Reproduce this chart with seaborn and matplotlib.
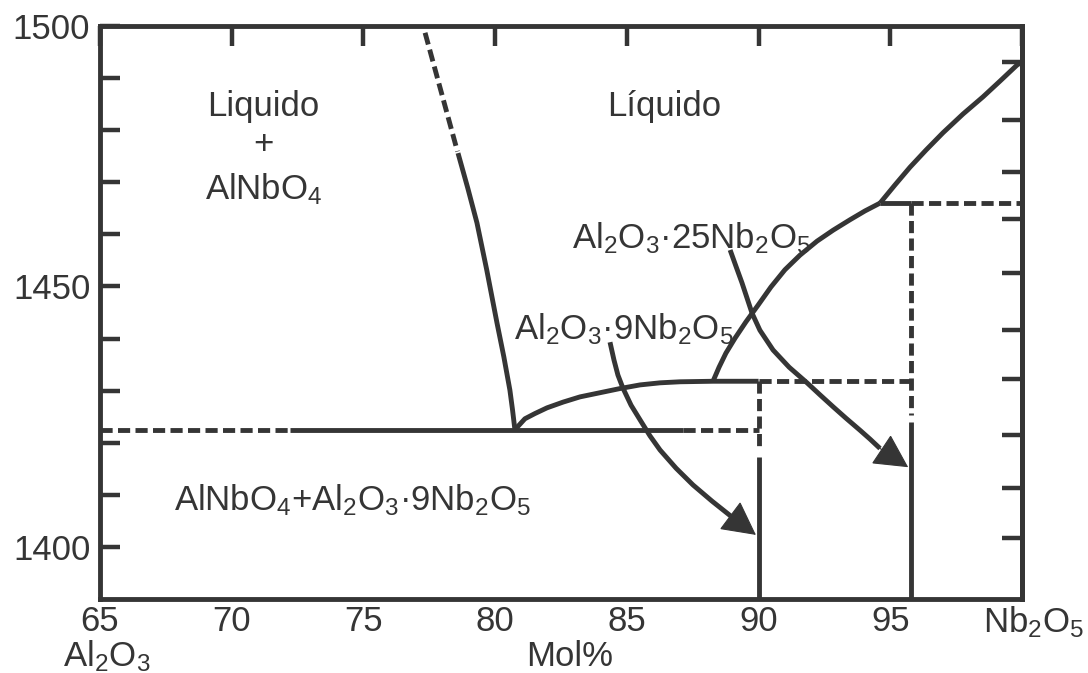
import matplotlib
matplotlib.use("Agg")
import matplotlib.pyplot as plt
import seaborn as sns
from matplotlib.patches import FancyArrowPatch, ArrowStyle
from matplotlib.transforms import ScaledTranslation

# ---- axes ---------------------------------------------------------------
x_range = (65, 100)
t_range = (1390, 1500)
x_ticks = [65, 70, 75, 80, 85, 90, 95, 100]
x_ticklabels = ["65", "70", "75", "80", "85", "90", "95", "Nb$_2$O$_5$"]
t_ticks = [1400, 1410, 1420, 1430, 1440, 1450, 1460, 1470, 1480, 1490, 1500]
t_ticklabels = ["1400", "", "", "", "", "1450", "", "", "", "", "1500"]
t_ticks_right = [1401.8, 1411.4, 1421.4, 1432.3, 1441.6, 1452.6, 1463.0, 1472.0, 1482.0, 1493.0]

# ---- invariant temperatures and compositions -------------------------------
eutectic_t = 1422.5
peritectic_9_t = 1431.8
peritectic_25_t = 1466.0
comp_9 = 90.0
comp_25 = 95.8

# liquidus of AlNbO4 (upper part uncertain)
liq_a_dash_x = [77.34, 78.57]
liq_a_dash_t = [1498.7, 1475.9]
liq_a_x = [78.59, 78.96, 79.31, 79.68, 80.07, 80.33, 80.56, 80.66, 80.75]
liq_a_t = [1475.6, 1468.9, 1462.2, 1453.2, 1443.0, 1436.5, 1430.1, 1426.3, 1422.5]

# liquidus of Al2O3·9Nb2O5
liq_9_x = [80.75, 81.13, 81.51, 81.97, 82.58, 83.22, 83.98, 84.74, 85.50, 86.26,
           87.02, 88.27, 90.0]
liq_9_t = [1422.5, 1424.6, 1425.6, 1426.7, 1427.8, 1428.8, 1429.6, 1430.4, 1431.1,
           1431.5, 1431.7, 1431.8, 1431.8]

# liquidus of Al2O3·25Nb2O5
liq_25_x = [88.27, 88.50, 88.76, 89.11, 89.52, 89.98, 90.47, 91.00, 91.57, 92.22,
            92.83, 93.47, 94.04, 94.61]
liq_25_t = [1431.8, 1434.5, 1437.2, 1440.1, 1443.2, 1446.4, 1449.9, 1453.2, 1456.0,
            1458.7, 1460.8, 1462.8, 1464.5, 1466.0]

# liquidus of Nb2O5
liq_nb_x = [94.61, 95.18, 95.75, 96.36, 97.00, 97.76, 98.52, 99.16, 99.81, 100.0]
liq_nb_t = [1466.0, 1469.5, 1472.9, 1476.2, 1479.5, 1483.1, 1486.4, 1489.4, 1492.5, 1493.1]

# extent of solid / dashed parts of the invariant lines
eutectic_solid_x = [72.2, 87.13]
eutectic_dash_x = [[65.0, 72.2], [87.13, comp_9]]
upper_solid_x = [94.61, comp_25]
upper_dash_x = [comp_25, 100.0]
comp_9_dash_t = [peritectic_9_t, 1418.6]
comp_9_solid_t = [1417.3, 1390.0]
comp_25_dash_t = [peritectic_25_t, 1425.3]
comp_25_solid_t = [1424.0, 1390.0]

# label arrows (last point is the arrow tip)
arrow_9_x = [84.36, 84.51, 84.66, 84.85, 85.16, 85.50, 85.88, 86.26, 86.87, 87.51,
             88.23, 88.95, 89.90]
arrow_9_t = [1439.3, 1435.9, 1433.0, 1430.5, 1427.2, 1424.4, 1421.3, 1418.6, 1415.1,
             1411.9, 1408.8, 1405.9, 1402.3]
arrow_25_x = [88.92, 89.14, 89.37, 89.56, 89.75, 90.05, 90.55, 91.16, 91.84, 92.33,
              92.83, 93.32, 93.85, 94.23, 94.61, 95.68]
arrow_25_t = [1457.0, 1453.9, 1450.7, 1447.8, 1444.9, 1441.6, 1437.8, 1434.5, 1431.5,
              1429.2, 1426.9, 1424.7, 1422.4, 1420.7, 1418.9, 1415.3]

# ---- style ---------------------------------------------------------------
INK = "#353535"
LW = 3.5
DASH = (2.5, 1.1)
FS = 25

sns.set_theme(style="white")
plt.rcParams["font.family"] = ["Liberation Sans", "DejaVu Sans"]
plt.rcParams["mathtext.fontset"] = "custom"
plt.rcParams["mathtext.rm"] = "Liberation Sans"
plt.rcParams["mathtext.it"] = "Liberation Sans:italic"
plt.rcParams["mathtext.bf"] = "Liberation Sans:bold"

fig = plt.figure(figsize=(10.88, 6.73), dpi=100)
ax = fig.add_axes([100 / 1088, 1 - 599 / 673, 922 / 1088, 573 / 673])


def trace(x, t, dashed=False):
    sns.lineplot(x=x, y=t, ax=ax, sort=False, estimator=None, color=INK,
                 linewidth=LW, linestyle=(0, DASH) if dashed else "-",
                 solid_capstyle="butt", dash_capstyle="butt",
                 solid_joinstyle="round", zorder=3)


# liquidus curves
trace(liq_a_dash_x, liq_a_dash_t, dashed=True)
trace(liq_a_x, liq_a_t)
trace(liq_9_x, liq_9_t)
trace(liq_25_x, liq_25_t)
trace(liq_nb_x, liq_nb_t)

# eutectic line
trace(eutectic_solid_x, [eutectic_t, eutectic_t])
for seg in eutectic_dash_x:
    trace(seg, [eutectic_t, eutectic_t], dashed=True)

# peritectic lines
trace([comp_9, comp_25], [peritectic_9_t, peritectic_9_t], dashed=True)
trace(upper_solid_x, [peritectic_25_t, peritectic_25_t])
trace(upper_dash_x, [peritectic_25_t, peritectic_25_t], dashed=True)

# compound lines
trace([comp_9, comp_9], comp_9_dash_t, dashed=True)
trace([comp_9, comp_9], comp_9_solid_t)
trace([comp_25, comp_25], comp_25_dash_t, dashed=True)
trace([comp_25, comp_25], comp_25_solid_t)

# curved label arrows
for xs, ts in ((arrow_9_x, arrow_9_t), (arrow_25_x, arrow_25_t)):
    trace(xs[:-1], ts[:-1])
    head = FancyArrowPatch((xs[-2], ts[-2]), (xs[-1], ts[-1]),
                           arrowstyle=ArrowStyle("-|>", head_length=22, head_width=11.5),
                           mutation_scale=1, shrinkA=0, shrinkB=0,
                           color=INK, lw=0.8, joinstyle="miter", zorder=4)
    ax.add_patch(head)

# ---- labels --------------------------------------------------------------
txt = dict(color=INK, fontsize=FS)
ax.text(71.19, 1482.7, "Liquido", ha="center", va="baseline", **txt)
ax.text(71.19, 1477.2, "+", ha="center", va="center", **txt)
ax.text(71.22, 1466.8, "AlNbO$_4$", ha="center", va="baseline", **txt)
ax.text(86.41, 1482.7, "Líquido", ha="center", va="baseline", **txt)
ax.text(87.45, 1457.4, "Al$_2$O$_3$·25Nb$_2$O$_5$", ha="center", va="baseline", **txt)
ax.text(84.89, 1439.9, "Al$_2$O$_3$·9Nb$_2$O$_5$", ha="center", va="baseline", **txt)
ax.text(74.57, 1407.1, "AlNbO$_4$+Al$_2$O$_3$·9Nb$_2$O$_5$", ha="center", va="baseline", **txt)

xt = ax.get_xaxis_transform()
ax.text(65.25, -0.117, "Al$_2$O$_3$", ha="center", va="baseline", transform=xt, **txt)
ax.text(82.84, -0.117, "Mol%", ha="center", va="baseline", transform=xt, **txt)

# ---- axes styling --------------------------------------------------------
ax.set_xlim(*x_range)
ax.set_ylim(*t_range)
ax.set_xticks(x_ticks)
ax.set_xticklabels(x_ticklabels)
ax.set_yticks(t_ticks)
ax.set_yticklabels(t_ticklabels)
ax.set_xlabel("")
ax.set_ylabel("")
ax.tick_params(axis="both", direction="in", length=14.5, width=3.2, color=INK,
               labelcolor=INK, labelsize=FS)
ax.tick_params(axis="x", top=True, pad=4)
ax.tick_params(axis="y", left=True, right=False, pad=7)
for side in ("left", "right", "top", "bottom"):
    ax.spines[side].set_visible(True)
    ax.spines[side].set_linewidth(LW)
    ax.spines[side].set_color(INK)
    ax.spines[side].set_zorder(5)

last = ax.get_xticklabels()[-1]
last.set_transform(last.get_transform() + ScaledTranslation(0.12, 0, fig.dpi_scale_trans))

sec = ax.secondary_yaxis("right")
sec.set_yticks(t_ticks_right)
sec.set_yticklabels([])
sec.tick_params(direction="in", length=14.5, width=3.2, color=INK)
sec.spines["right"].set_linewidth(LW)
sec.spines["right"].set_color(INK)

fig.savefig("out.png", dpi=100, facecolor="white")
